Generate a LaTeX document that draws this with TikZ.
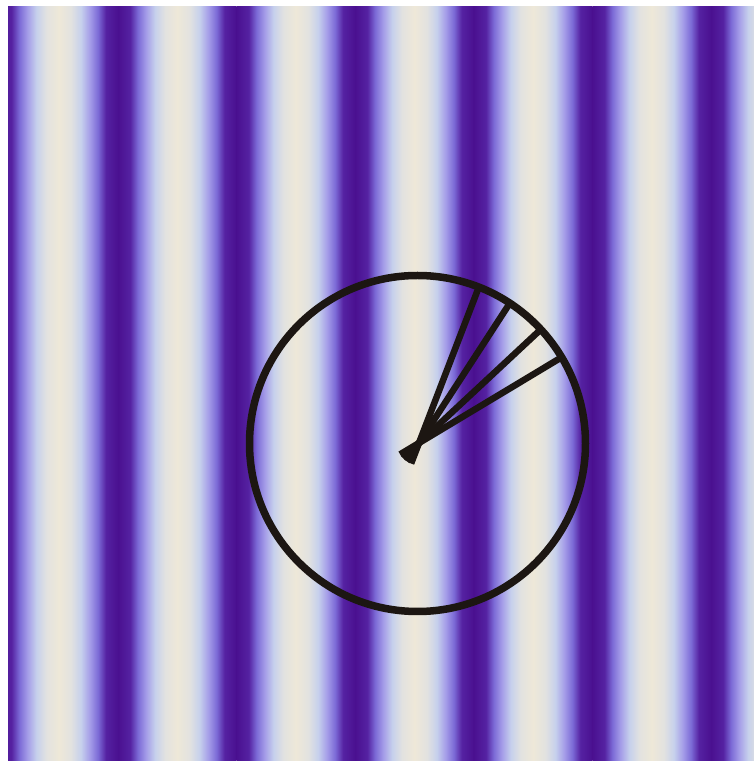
\documentclass[tikz,border=0pt]{standalone}
\definecolor{stripeDark}{HTML}{4A1090}
\definecolor{stripeDeep}{HTML}{5522A2}
\definecolor{stripeMid}{HTML}{7C6AD6}
\definecolor{stripeLav}{HTML}{A49CE8}
\definecolor{stripeSky}{HTML}{C6D0EC}
\definecolor{stripePale}{HTML}{E2E2E0}
\definecolor{stripeCream}{HTML}{EEE8D8}
\definecolor{inkBlack}{HTML}{1C1612}
% one period of the stripe pattern, dark centre to dark centre
\pgfdeclarehorizontalshading{stripes}{100bp}{color(0bp)=(stripeDark); color(25bp)=(stripeDark);
  color(30.1bp)=(stripeDeep); color(33.4bp)=(stripeMid); color(36.8bp)=(stripeLav);
  color(40.6bp)=(stripeSky); color(44.8bp)=(stripePale); color(50bp)=(stripeCream);
  color(55.2bp)=(stripePale); color(59.4bp)=(stripeSky); color(63.2bp)=(stripeLav);
  color(66.6bp)=(stripeMid); color(69.9bp)=(stripeDeep); color(75bp)=(stripeDark);
  color(100bp)=(stripeDark)}
\tikzset{
  ring/.style={draw=inkBlack,line width=7.5pt},
  spoke/.style={draw=inkBlack,line width=6.5pt}
}
\begin{document}
\begin{tikzpicture}[x=1pt,y=1pt]
\useasboundingbox[fill=white] (0,0) rectangle (754,761);
% striped field
\begin{scope}
\clip (8,0) rectangle (754,754);
\foreach \k in {-1,...,6}
  \shade[shading=stripes] ({-0.6+\k*118.6},0) rectangle ({-0.6+(\k+1)*118.6},754);
\end{scope}
% circle with fan of lines
\coordinate (hub) at (417.5,317.5);
\coordinate (apex) at (419,318);
\draw[ring] (hub) circle (168);
\foreach \a in {69,57,43,31}
  \draw[spoke] ([shift={(\a+180:22)}]apex) -- ([shift={(\a:164)}]apex);
\end{tikzpicture}
\end{document}
